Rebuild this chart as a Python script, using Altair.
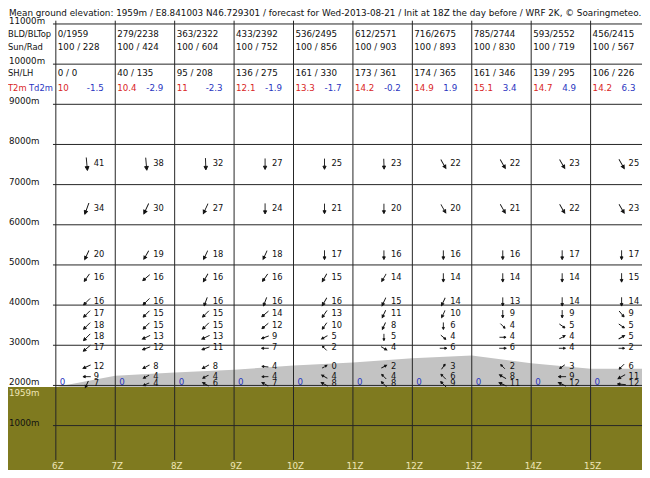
import altair as alt
import pandas as pd

# ---------------- data ----------------
title_text = ("Mean ground elevation: 1959m / E8.841003 N46.729301 / forecast for "
              "Wed-2013-08-21 / Init at 18Z the day before / WRF 2K, \u00a9 Soaringmeteo.")
hours = [6, 7, 8, 9, 10, 11, 12, 13, 14, 15]
hour_labels = ["6Z", "7Z", "8Z", "9Z", "10Z", "11Z", "12Z", "13Z", "14Z", "15Z"]
bld = [0, 279, 363, 433, 536, 612, 716, 785, 593, 456]
bltop = [1959, 2238, 2322, 2392, 2495, 2571, 2675, 2744, 2552, 2415]
sun = [100, 100, 100, 100, 100, 100, 100, 100, 100, 100]
rad = [228, 424, 604, 752, 856, 903, 893, 830, 719, 567]
sh = [0, 40, 95, 136, 161, 173, 174, 161, 139, 106]
lh = [0, 135, 208, 275, 330, 361, 365, 346, 295, 226]
t2m = [10, 10.4, 11, 12.1, 13.3, 14.2, 14.9, 15.1, 14.7, 14.2]
td2m = [-1.5, -2.9, -2.3, -1.9, -1.7, -0.2, 1.9, 3.4, 4.9, 6.3]
thermal = [0, 0, 0, 0, 0, 0, 0, 0, 0, 0]
ground_elev = 1959
alt_ticks = [11000, 10000, 9000, 8000, 7000, 6000, 5000, 4000, 3000, 2000, 1000]

# wind levels (m) and, per level, speed and arrow bearing for each hour
level_alt = [7514, 6401, 5248, 4683, 4085, 3779, 3480, 3199, 2925, 2467, 2218, 2028]
wind_speed = [
    [41, 38, 32, 27, 25, 23, 22, 22, 23, 25],
    [34, 30, 27, 24, 21, 20, 20, 21, 22, 23],
    [20, 19, 18, 18, 17, 16, 16, 16, 17, 17],
    [16, 16, 16, 16, 15, 14, 14, 14, 14, 15],
    [16, 16, 16, 16, 16, 15, 14, 13, 14, 14],
    [17, 15, 15, 14, 13, 11, 10, 9, 9, 9],
    [18, 15, 15, 12, 10, 8, 6, 4, 5, 5],
    [18, 13, 13, 9, 5, 5, 4, 4, 4, 5],
    [17, 12, 11, 7, 2, 4, 6, 6, 4, 2],
    [12, 8, 8, 4, 0, 2, 3, 2, 3, 6],
    [9, 4, 4, 4, 4, 4, 6, 8, 9, 11],
    [7, 4, 6, 7, 8, 8, 9, 11, 12, 12],
]
wind_bearing = [
    [175, 175, 178, 180, 180, 178, 150, 150, 150, 150],
    [200, 205, 205, 180, 180, 180, 150, 150, 150, 150],
    [205, 210, 205, 205, 180, 180, 180, 180, 180, 180],
    [215, 230, 210, 215, 210, 210, 180, 180, 180, 180],
    [225, 225, 200, 200, 210, 205, 205, 180, 180, 180],
    [225, 225, 225, 230, 215, 205, 205, 180, 180, 140],
    [225, 225, 225, 230, 215, 205, 180, 135, 125, 125],
    [225, 245, 245, 250, 240, 180, 130, 90, 60, 60],
    [230, 250, 250, 270, 315, 120, 90, 90, 90, 90],
    [245, 240, 240, 275, 60, 60, 35, 315, 235, 225],
    [270, 240, 240, 270, 300, 315, 315, 300, 270, 240],
    [205, 245, 300, 300, 300, 315, 315, 295, 295, 275],
]

# ---------------- layout ----------------
W, H = 634, 462
X0, X1 = 5.195, 15.865
Y0, Y1 = -106, 11398
X_LEFT, X_RIGHT = 5.952, 15.865
FONT = "DejaVu Sans"
FS = 8.7
RED = "#d92626"
BLUE = "#2a35c0"
CREAM = "#efe7b8"
OLIVE = "#7f7a1f"
GRAY = "#c3c3c3"
LINE = "#262626"

xs = alt.Scale(domain=[X0, X1], nice=False, zero=False)
ys = alt.Scale(domain=[Y0, Y1], nice=False, zero=False)

def X(f):
    return alt.X(f, type="quantitative", scale=xs, axis=None)

def Y(f):
    return alt.Y(f, type="quantitative", scale=ys, axis=None)

# ---------------- tables ----------------
ground_df = pd.DataFrame({"x0": [X0], "x1": [X_RIGHT], "y0": [Y0], "y1": [ground_elev]})
bl_df = pd.DataFrame({"hour": hours + [X_RIGHT], "top": bltop + [bltop[-1]],
                      "base": [ground_elev] * (len(hours) + 1)})
hl_df = pd.DataFrame({"alt": alt_ticks, "x0": [X_LEFT] * len(alt_ticks), "x1": [X_RIGHT] * len(alt_ticks)})
vl_df = pd.DataFrame({"hour": hours, "y0": [11082] * len(hours), "y1": [140] * len(hours)})
ylab_df = pd.DataFrame({"alt": alt_ticks, "label": [f"{a}m" for a in alt_ticks]})

ROW_BLD, ROW_SUN, ROW_SH, ROW_T = 10751, 10427, 9780, 9406
rows = []
for i, h in enumerate(hours):
    rows.append({"hour": h, "alt": ROW_BLD, "text": f"{bld[i]}/{bltop[i]}"})
    rows.append({"hour": h, "alt": ROW_SUN, "text": f"{sun[i]} / {rad[i]}"})
    rows.append({"hour": h, "alt": ROW_SH, "text": f"{sh[i]} / {lh[i]}"})
hdr_df = pd.DataFrame(rows)
t_df = pd.DataFrame({"hour": hours, "alt": [ROW_T] * 10, "text": [f"{v:g}" for v in t2m]})
td_df = pd.DataFrame({"hour": hours, "alt": [ROW_T] * 10, "text": [f"{v:g}" for v in td2m]})
rowlab_df = pd.DataFrame({"alt": [ROW_BLD, ROW_SUN, ROW_SH], "text": ["BLD/BLTop", "Sun/Rad", "SH/LH"]})

wrows = []
for li, la in enumerate(level_alt):
    for hi, h in enumerate(hours):
        wrows.append({"hour": h, "alt": la, "speed": wind_speed[li][hi],
                      "bearing": wind_bearing[li][hi]})
wind_df = pd.DataFrame(wrows)
zero_df = pd.DataFrame({"hour": hours, "alt": [2086] * 10, "text": [str(v) for v in thermal]})
hl_lab_df = pd.DataFrame({"hour": hours, "alt": [0] * 10, "text": hour_labels})

ARROW = "M0,1L0,-0.45M-0.3,-0.4L0.3,-0.4L0,-1Z"

# ---------------- layers ----------------
ground = alt.Chart(ground_df).mark_rect(color=OLIVE).encode(
    x=X("x0"), x2="x1", y=Y("y0"), y2="y1")
bl = alt.Chart(bl_df).mark_area(color=GRAY, opacity=1).encode(
    x=X("hour"), y=Y("top"), y2="base")
hlines = alt.Chart(hl_df).mark_rule(color=LINE, strokeWidth=1).encode(
    x=X("x0"), x2="x1", y=Y("alt"))
vlines = alt.Chart(vl_df).mark_rule(color=LINE, strokeWidth=1).encode(
    x=X("hour"), y=Y("y0"), y2="y1")

title = alt.Chart(pd.DataFrame({"t": [title_text]})).mark_text(
    align="left", baseline="top", font=FONT, fontSize=8.8, color="#111").encode(
    x=alt.value(1), y=alt.value(1), text="t:N")
ylabels = alt.Chart(ylab_df).mark_text(
    align="left", baseline="middle", dy=-3, font=FONT, fontSize=FS, color="#111").encode(
    x=alt.value(1), y=Y("alt"), text="label:N")
gl = alt.Chart(pd.DataFrame({"alt": [1812], "text": [f"{ground_elev}m"]})).mark_text(
    align="left", baseline="middle", font=FONT, fontSize=FS, color=CREAM).encode(
    x=alt.value(1), y=Y("alt"), text="text:N")
rowlabels = alt.Chart(rowlab_df).mark_text(
    align="left", baseline="middle", font=FONT, fontSize=8.4, color="#111").encode(
    x=alt.value(0), y=Y("alt"), text="text:N")
tlab = alt.Chart(pd.DataFrame({"alt": [ROW_T], "text": ["T2m"]})).mark_text(
    align="left", baseline="middle", font=FONT, fontSize=8.4, color=RED).encode(
    x=alt.value(0), y=Y("alt"), text="text:N")
tdlab = alt.Chart(pd.DataFrame({"alt": [ROW_T], "text": ["Td2m"]})).mark_text(
    align="left", baseline="middle", font=FONT, fontSize=8.4, color=BLUE).encode(
    x=alt.value(21), y=Y("alt"), text="text:N")

hdr = alt.Chart(hdr_df).mark_text(
    align="left", baseline="middle", dx=2, font=FONT, fontSize=FS, color="#111").encode(
    x=X("hour"), y=Y("alt"), text="text:N")
tv = alt.Chart(t_df).mark_text(
    align="left", baseline="middle", dx=2, font=FONT, fontSize=FS, color=RED).encode(
    x=X("hour"), y=Y("alt"), text="text:N")
tdv = alt.Chart(td_df).mark_text(
    align="left", baseline="middle", dx=31, font=FONT, fontSize=FS, color=BLUE).encode(
    x=X("hour"), y=Y("alt"), text="text:N")

arrows = alt.Chart(wind_df).mark_point(
    shape=ARROW, filled=True, fill="#111", stroke="#111", strokeWidth=0.9,
    opacity=1, xOffset=31).encode(
    x=X("hour"), y=Y("alt"),
    size=alt.Size("speed:Q", scale=alt.Scale(domain=[0, 41], range=[30, 170]), legend=None),
    angle=alt.Angle("bearing:Q", scale=None))
wtext = alt.Chart(wind_df).mark_text(
    align="left", baseline="middle", dx=38, font=FONT, fontSize=8.3, color="#111").encode(
    x=X("hour"), y=Y("alt"), text="speed:Q")
zeros = alt.Chart(zero_df).mark_text(
    align="left", baseline="middle", dx=4, font=FONT, fontSize=FS, color=BLUE).encode(
    x=X("hour"), y=Y("alt"), text="text:N")
hlabels = alt.Chart(hl_lab_df).mark_text(
    align="center", baseline="middle", dx=2, font=FONT, fontSize=FS, color=CREAM).encode(
    x=X("hour"), y=Y("alt"), text="text:N")

chart = alt.layer(
    ground, bl, hlines, vlines, title, ylabels, gl, rowlabels, tlab, tdlab,
    hdr, tv, tdv, arrows, wtext, zeros, hlabels
).properties(
    width=W, height=H, autosize=alt.AutoSizeParams(type="none"), padding=0
).configure_view(stroke=None)

chart.save("out.html", embed_options={"renderer": "svg", "actions": False})
